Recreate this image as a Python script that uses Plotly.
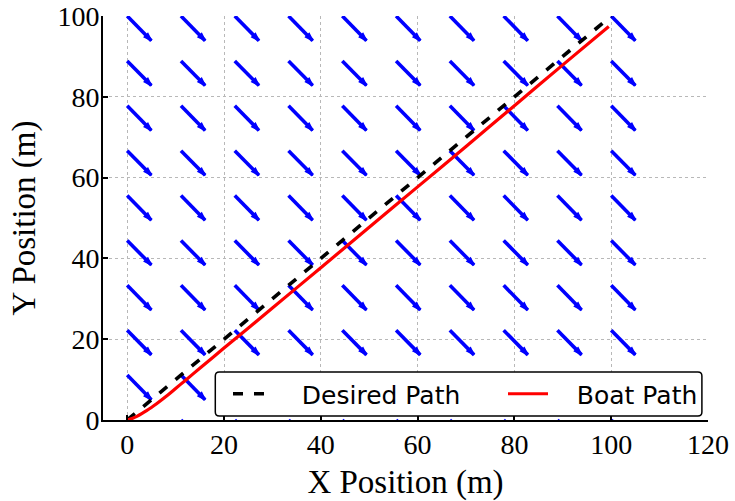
import numpy as np
import plotly.graph_objects as go

# Current field sampled on a regular 10 x 10 mesh (m)
grid_x = np.linspace(0, 100, 10)
grid_y = np.linspace(0, 100, 10)
current_u = 5.0    # drawn east component of each current vector (m)
current_v = -6.1   # drawn north component of each current vector (m)

# Straight-line reference track
desired_x = [0, 100]
desired_y = [0, 100]

# Simulated boat track
boat_x = [0, 1, 2, 3, 4, 5, 6, 8, 10, 12, 15, 20, 30, 40, 50, 60, 70, 80, 90, 99.5]
boat_y = [0, 0.35, 0.9, 1.55, 2.3, 3.1, 3.95, 5.8, 7.8, 9.8, 12.8, 17.8, 27.7,
          37.7, 47.7, 57.7, 67.7, 77.8, 87.9, 97.4]

x_ticks = [0, 20, 40, 60, 80, 100, 120]
y_ticks = [0, 20, 40, 60, 80, 100]

BLUE = "#0000ff"
SERIF = "Liberation Serif"
PAD = "\u00a0\u00a0\u00a0"   # gap between legend handle and label

# quiver: one segment per mesh node, arrow head on the second point
qx, qy, qs = [], [], []
for yy in grid_y:
    for xx in grid_x:
        qx += [xx, xx + current_u, None]
        qy += [yy, yy + current_v, None]
        qs += [0, 8, 0]

fig = go.Figure()
fig.add_trace(go.Scatter(
    x=qx, y=qy, mode="lines+markers", showlegend=False, hoverinfo="skip",
    line=dict(color=BLUE, width=3.6, backoff=0),
    marker=dict(symbol="arrow", angleref="previous", size=qs, color=BLUE,
                opacity=1, line=dict(width=1.5, color=BLUE)),
    cliponaxis=True,
))
fig.add_trace(go.Scatter(
    x=desired_x, y=desired_y, mode="lines", name=PAD + "Desired Path",
    legend="legend",
    line=dict(color="black", width=3.6, dash="10px,11px"),
))
fig.add_trace(go.Scatter(
    x=boat_x, y=boat_y, mode="lines", name=PAD + "Boat Path",
    legend="legend2",
    line=dict(color="#ff0000", width=3.2, shape="spline", smoothing=0.6),
))

axis_common = dict(
    showgrid=True, gridcolor="#b8b8b8", gridwidth=1, griddash="dot",
    zeroline=False, showline=True, linecolor="black", linewidth=2,
    ticks="inside", ticklen=5, tickwidth=1.5, tickcolor="black",
    tickfont=dict(family=SERIF, size=28, color="black"),
    mirror=False, automargin=False,
)

fig.update_xaxes(range=[-5, 120], tickvals=x_ticks, ticklabelstandoff=-2,
                 title=dict(text="X Position (m)", standoff=16,
                            font=dict(family=SERIF, size=33, color="black")),
                 **axis_common)
fig.update_yaxes(range=[0, 100], tickvals=y_ticks, ticklabelstandoff=-4,
                 title=dict(text="Y Position (m)", standoff=12,
                            font=dict(family=SERIF, size=33, color="black")),
                 **axis_common)

# legend frame with rounded corners, drawn above the data
pw, ph = 605.0, 404.0
x0, x1 = (215.3 - 103) / pw, (701.9 - 103) / pw
y0, y1 = (420 - 416) / ph, (420 - 372) / ph
rx, ry = 4 / pw, 4 / ph
frame = (f"M{x0+rx},{y0} L{x1-rx},{y0} Q{x1},{y0} {x1},{y0+ry} "
         f"L{x1},{y1-ry} Q{x1},{y1} {x1-rx},{y1} L{x0+rx},{y1} "
         f"Q{x0},{y1} {x0},{y1-ry} L{x0},{y0+ry} Q{x0},{y0} {x0+rx},{y0} Z")
fig.add_shape(type="path", path=frame, xref="paper", yref="paper",
              fillcolor="white", line=dict(color="black", width=1.5),
              layer="above")

legend_style = dict(orientation="h", yanchor="middle", xanchor="left",
                    y=(y0 + y1) / 2, bgcolor="rgba(0,0,0,0)", borderwidth=0,
                    font=dict(family="DejaVu Sans", size=25, color="black"),
                    itemwidth=40)

fig.update_layout(
    width=735, height=501,
    margin=dict(l=103, r=27, t=16, b=81, autoexpand=False),
    plot_bgcolor="white", paper_bgcolor="white",
    showlegend=True,
    legend=dict(x=(228 - 103) / pw, **legend_style),
    legend2=dict(x=(503 - 103) / pw, **legend_style),
)

fig.write_html("out.html")
